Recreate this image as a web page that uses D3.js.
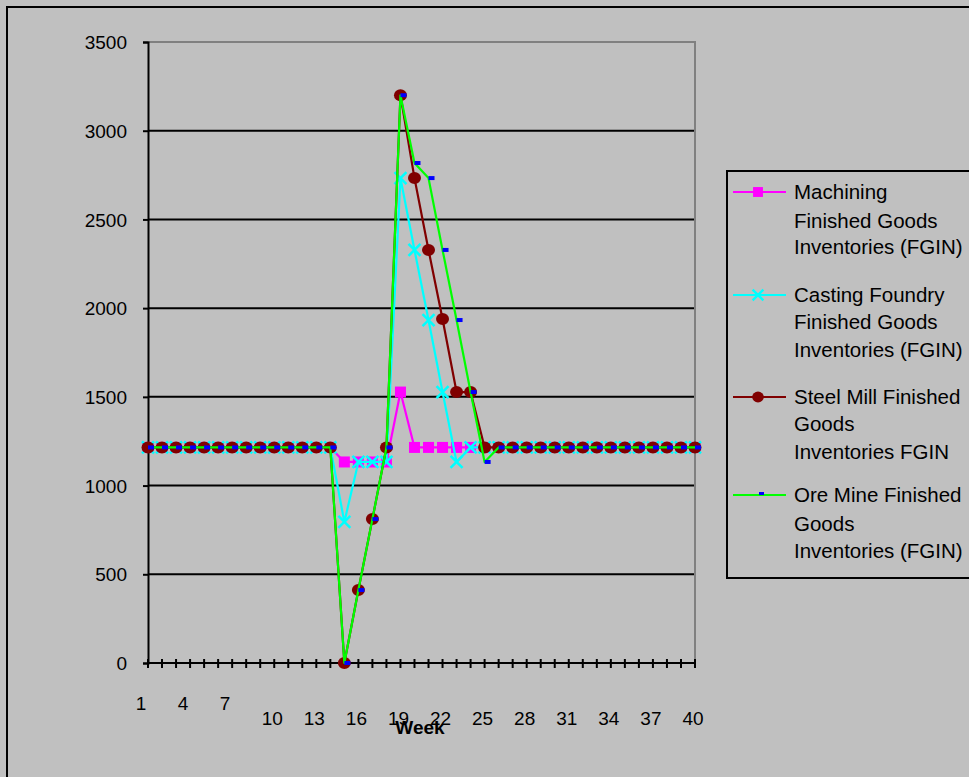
<!DOCTYPE html>
<html>
<head>
<meta charset="utf-8">
<script src="https://cdn.jsdelivr.net/npm/d3@7"></script>
<style>
  html, body { margin: 0; padding: 0; background: #c0c0c0; }
  svg { display: block; }
  text { font-family: "Liberation Sans", Arial, sans-serif; fill: #000; }
</style>
</head>
<body>
<svg id="chart" width="969" height="777"></svg>
<script>
const weeks = [1,2,3,4,5,6,7,8,9,10,11,12,13,14,15,16,17,18,19,20,21,22,23,24,25,26,27,28,29,30,31,32,33,34,35,36,37,38,39,40];
const xTickLabels = [1,4,7,10,13,16,19,22,25,28,31,34,37,40];
const yTicks = [0,500,1000,1500,2000,2500,3000,3500];

const machining = [1215,1215,1215,1215,1215,1215,1215,1215,1215,1215,1215,1215,1215,1215,1133,1133,1133,1133,1527,1215,1215,1215,1215,1215,1215,1215,1215,1215,1215,1215,1215,1215,1215,1215,1215,1215,1215,1215,1215,1215];
const casting   = [1215,1215,1215,1215,1215,1215,1215,1215,1215,1215,1215,1215,1215,1215,795,1133,1133,1133,2733,2328,1933,1527,1133,1215,1215,1215,1215,1215,1215,1215,1215,1215,1215,1215,1215,1215,1215,1215,1215,1215];
const steel     = [1215,1215,1215,1215,1215,1215,1215,1215,1215,1215,1215,1215,1215,1215,0,411,811,1215,3200,2733,2328,1939,1527,1527,1215,1215,1215,1215,1215,1215,1215,1215,1215,1215,1215,1215,1215,1215,1215,1215];
const ore       = [1215,1215,1215,1215,1215,1215,1215,1215,1215,1215,1215,1215,1215,1215,0,411,811,1215,3200,2818,2733,2328,1933,1527,1133,1215,1215,1215,1215,1215,1215,1215,1215,1215,1215,1215,1215,1215,1215,1215];

const seriesNames = [
  ["Machining", "Finished Goods", "Inventories (FGIN)"],
  ["Casting Foundry", "Finished Goods", "Inventories (FGIN)"],
  ["Steel Mill Finished", "Goods", "Inventories FGIN"],
  ["Ore Mine Finished", "Goods", "Inventories (FGIN)"]
];
const seriesColors = ["#ff00ff", "#00ffff", "#800000", "#00ff00"];
const seriesMarkers = ["square", "x", "circle", "dash"];
const seriesValues = [machining, casting, steel, ore];

const svg = d3.select("#chart");

// outer frame
svg.append("rect").attr("x", 7).attr("y", 7).attr("width", 1000).attr("height", 1000)
  .attr("fill", "#c0c0c0").attr("stroke", "#000").attr("stroke-width", 2);

const x = d3.scaleLinear().domain([1, 40]).range([148, 695]);
const y = d3.scaleLinear().domain([0, 3500]).range([663, 42]);

// gridlines
svg.append("g").selectAll("line").data(yTicks.filter(t => t > 0 && t < 3500)).join("line")
  .attr("x1", x(1)).attr("x2", x(40)).attr("y1", d => y(d)).attr("y2", d => y(d))
  .attr("stroke", "#000").attr("stroke-width", 2);

// plot border top/right (gray)
svg.append("path")
  .attr("d", `M${x(1)},${y(3500)}H${x(40)}V${y(0)}`)
  .attr("fill", "none").attr("stroke", "#808080").attr("stroke-width", 2);

// y axis
const yAxis = d3.axisLeft(y).tickValues(yTicks).tickFormat(d3.format("d")).tickSize(5).tickPadding(16);
const gy = svg.append("g").attr("transform", `translate(${x(1)},0)`).call(yAxis);
gy.select(".domain").attr("stroke", "#000").attr("stroke-width", 2);
gy.selectAll(".tick line").attr("stroke", "#000").attr("stroke-width", 2);
gy.selectAll(".tick text").style("font-size", "19px").attr("dy", "0.35em")
  .style("font-family", "'Liberation Sans', Arial, sans-serif").attr("fill", "#000");

// x axis line with crossing ticks
const gx = svg.append("g");
gx.append("line").attr("x1", x(1)).attr("x2", x(40)).attr("y1", y(0)).attr("y2", y(0))
  .attr("stroke", "#000").attr("stroke-width", 2);
gx.selectAll("line.tk").data(weeks).join("line").attr("class", "tk")
  .attr("x1", d => x(d)).attr("x2", d => x(d)).attr("y1", y(0) - 4).attr("y2", y(0) + 5)
  .attr("stroke", "#000").attr("stroke-width", 2);
gx.selectAll("text").data(xTickLabels).join("text")
  .attr("x", d => x(d) + (d < 10 ? -7 : -2))
  .attr("y", d => d < 10 ? 710 : 725)
  .attr("text-anchor", "middle").style("font-size", "19px").text(d => d);

svg.append("text").attr("x", 420).attr("y", 734).attr("text-anchor", "middle")
  .style("font-size", "19px").style("font-weight", "bold").text("Week");

// markers
function drawMarker(g, type, color, cx, cy, scale) {
  const s = scale || 1;
  if (type === "square") {
    g.append("rect").attr("x", cx - 5.5 * s).attr("y", cy - 5.5 * s).attr("width", 11 * s).attr("height", 11 * s).attr("fill", color);
  } else if (type === "x") {
    const r = 6 * s;
    g.append("path").attr("d", `M${cx - r},${cy - r}L${cx + r},${cy + r}M${cx - r},${cy + r}L${cx + r},${cy - r}`)
      .attr("stroke", color).attr("stroke-width", 2.5).attr("fill", "none");
  } else if (type === "circle") {
    g.append("ellipse").attr("cx", cx).attr("cy", cy).attr("rx", 6.5 * s).attr("ry", 6 * s).attr("fill", color);
  } else if (type === "dash") {
    g.append("rect").attr("x", cx).attr("y", cy - 2).attr("width", 6).attr("height", 4).attr("fill", "#0000ff");
  }
}

const line = d3.line().x((d, i) => x(weeks[i])).y(d => y(d));
seriesValues.forEach((vals, si) => {
  const g = svg.append("g");
  g.append("path").datum(vals).attr("d", line).attr("fill", "none")
    .attr("stroke", seriesColors[si]).attr("stroke-width", 2.2).attr("stroke-linejoin", "round");
  vals.forEach((v, i) => drawMarker(g, seriesMarkers[si], seriesColors[si], x(weeks[i]), y(v)));
});

// legend
const lg = svg.append("g");
lg.append("rect").attr("x", 727).attr("y", 171).attr("width", 260).attr("height", 407)
  .attr("fill", "#c0c0c0").attr("stroke", "#000").attr("stroke-width", 2);
const legendRows = [[192, 221, 247], [295, 322, 350], [397, 424, 452], [495, 524, 551]];
seriesNames.forEach((lines, si) => {
  const ly = legendRows[si][0];
  lg.append("line").attr("x1", 733).attr("x2", 786).attr("y1", ly).attr("y2", ly)
    .attr("stroke", seriesColors[si]).attr("stroke-width", 2.2);
  if (seriesMarkers[si] === "dash") {
    lg.append("rect").attr("x", 759).attr("y", ly - 3).attr("width", 5).attr("height", 3).attr("fill", "#0000ff");
  } else {
    drawMarker(lg, seriesMarkers[si], seriesColors[si], 758, ly, 0.9);
  }
  lines.forEach((t, li) => {
    lg.append("text").attr("x", 794).attr("y", legendRows[si][li]).attr("dy", "0.35em")
      .style("font-size", "20.5px").text(t);
  });
});
</script>
</body>
</html>
